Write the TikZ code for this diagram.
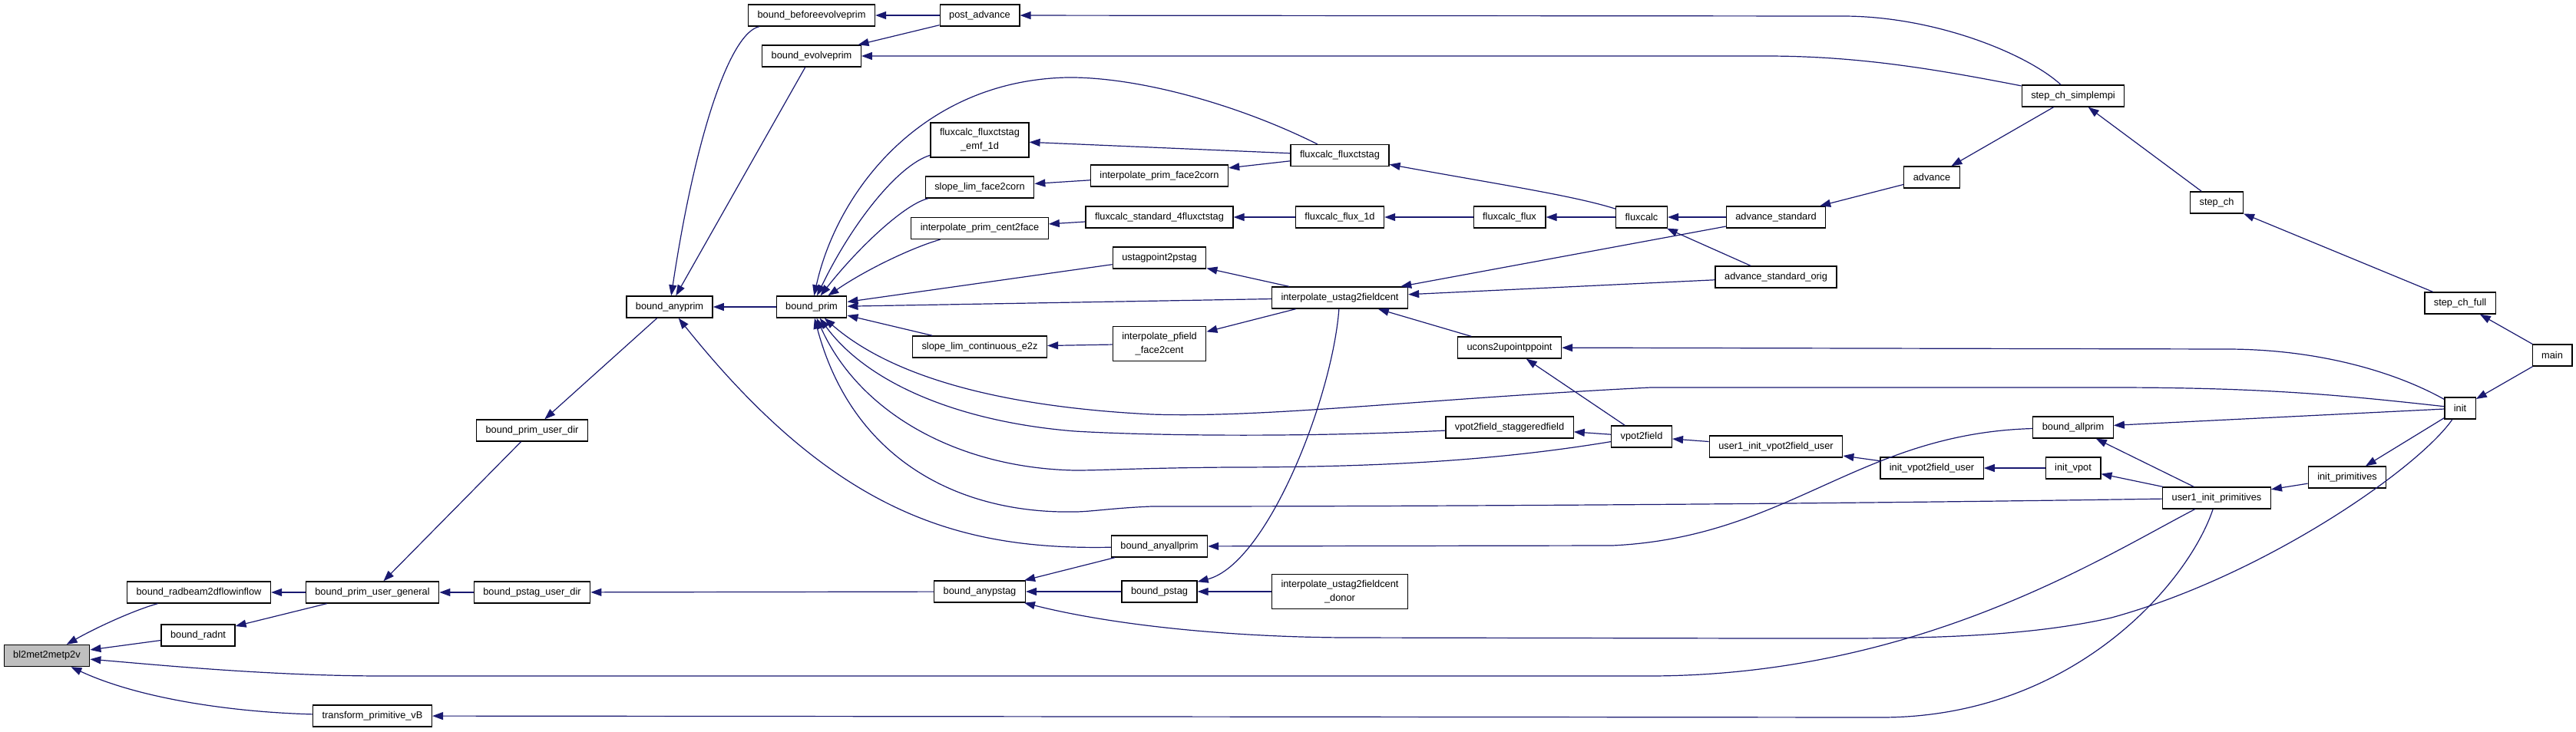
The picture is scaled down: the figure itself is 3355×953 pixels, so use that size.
\documentclass[tikz,border=0pt]{standalone}
\usepackage{fontspec}
\setmainfont{Liberation Sans}
\usetikzlibrary{arrows.meta}
\definecolor{edgeblue}{HTML}{191970}
\definecolor{focusgray}{HTML}{BFBFBF}

\begin{document}
\begin{tikzpicture}[x=0.5pt, y=-0.5pt,
		fn_box/.style={draw=black, line width=0.65pt, fill=white, inner xsep=6pt, inner ysep=0pt, minimum height=14pt, font=\fontsize{6.4}{9}\selectfont},
		fn_box_two/.style={fn_box, align=center, minimum height=22.5pt},
		focus_box/.style={fn_box, fill=focusgray},
		call_edge/.style={draw=edgeblue, line width=0.6pt, -{Triangle[length=7pt,width=5pt]}}
		]
		\useasboundingbox (0,0) rectangle (3355,953);
		
		\node[focus_box] (bl2met) at (61,854.5) {bl2met2metp2v};
		\node[fn_box] (radbeam) at (259,772) {bound\_radbeam2dflowinflow};
		\node[fn_box] (radnt) at (258,828) {bound\_radnt};
		\node[fn_box] (pugen) at (485,772) {bound\_prim\_user\_general};
		\node[fn_box] (trans) at (485,933) {transform\_primitive\_vB};
		\node[fn_box] (pudir) at (693,561) {bound\_prim\_user\_dir};
		\node[fn_box] (psdir) at (693,772) {bound\_pstag\_user\_dir};
		\node[fn_box] (anyprim) at (872,400) {bound\_anyprim};
		\node[fn_box] (bep) at (1057,20) {bound\_beforeevolveprim};
		\node[fn_box] (evp) at (1057,73) {bound\_evolveprim};
		\node[fn_box] (prim) at (1057,400) {bound\_prim};
		\node[fn_box] (postadv) at (1276,20) {post\_advance};
		\node[fn_box_two] (emf) at (1276,182.5) {fluxcalc\_fluxctstag\\\_emf\_1d};
		\node[fn_box] (slf2c) at (1276,244) {slope\_lim\_face2corn};
		\node[fn_box] (ipc2f) at (1276,297.5) {interpolate\_prim\_cent2face};
		\node[fn_box] (sle2z) at (1276,452) {slope\_lim\_continuous\_e2z};
		\node[fn_box] (anypstag) at (1276,771) {bound\_anypstag};
		\node[fn_box] (ipf2c) at (1510,229) {interpolate\_prim\_face2corn};
		\node[fn_box] (fs4) at (1510,283) {fluxcalc\_standard\_4fluxctstag};
		\node[fn_box] (ust2p) at (1510,336) {ustagpoint2pstag};
		\node[fn_box_two] (ipff2c) at (1510,448) {interpolate\_pfield\\\_face2cent};
		\node[fn_box] (anyall) at (1510,712) {bound\_anyallprim};
		\node[fn_box] (pstag) at (1510,771) {bound\_pstag};
		\node[fn_box] (fct) at (1745,202.5) {fluxcalc\_fluxctstag};
		\node[fn_box] (ff1d) at (1745,283) {fluxcalc\_flux\_1d};
		\node[fn_box] (iu2f) at (1745,388) {interpolate\_ustag2fieldcent};
		\node[fn_box_two] (donor) at (1745,771) {interpolate\_ustag2fieldcent\\\_donor};
		\node[fn_box] (fflux) at (1966,283) {fluxcalc\_flux};
		\node[fn_box] (ucons) at (1966,453) {ucons2upointppoint};
		\node[fn_box] (vpsf) at (1966,557) {vpot2field\_staggeredfield};
		\node[fn_box] (fluxcalc) at (2138,283) {fluxcalc};
		\node[fn_box] (vpot2f) at (2138,569) {vpot2field};
		\node[fn_box] (advstd) at (2313,283) {advance\_standard};
		\node[fn_box] (advorig) at (2313,361) {advance\_standard\_orig};
		\node[fn_box] (u1vpot) at (2313,582) {user1\_init\_vpot2field\_user};
		\node[fn_box] (advance) at (2516,231) {advance};
		\node[fn_box] (ivpotu) at (2516,610) {init\_vpot2field\_user};
		\node[fn_box] (simplempi) at (2700,125) {step\_ch\_simplempi};
		\node[fn_box] (allprim) at (2700,557) {bound\_allprim};
		\node[fn_box] (initvpot) at (2700,610) {init\_vpot};
		\node[fn_box] (stepch) at (2887,264) {step\_ch};
		\node[fn_box] (u1prim) at (2887,649) {user1\_init\_primitives};
		\node[fn_box] (initprim) at (3057,622) {init\_primitives};
		\node[fn_box] (stepchfull) at (3204,395) {step\_ch\_full};
		\node[fn_box] (init) at (3204,532) {init};
		\node[fn_box] (main) at (3324,463) {main};
		
		\draw[call_edge] (radbeam) .. controls (175,795) and (125,818) .. (bl2met);
		\draw[call_edge] (radnt) -- (bl2met);
		\draw[call_edge] (u1prim) .. controls (2740,725) and (2500,880) .. (2150,881) -- (500,881) .. controls (350,881) and (200,866) .. (bl2met);
		\draw[call_edge] (trans) .. controls (300,928) and (180,910) .. (bl2met);
		\draw[call_edge] (u1prim) .. controls (2850,760) and (2700,935) .. (2450,935) -- (trans);
		\draw[call_edge] (pugen) -- (radbeam); \draw[call_edge] (pugen) -- (radnt);
		\draw[call_edge] (pudir) -- (pugen); \draw[call_edge] (psdir) -- (pugen);
		\draw[call_edge] (anyprim) -- (pudir);
		\draw[call_edge] (bep) .. controls (950,43) and (905,180) .. (anyprim);
		\draw[call_edge] (evp) -- (anyprim); \draw[call_edge] (prim) -- (anyprim);
		\draw[call_edge] (anyall) .. controls (1250,717) and (1088,670) .. (anyprim);
		\draw[call_edge] (postadv) -- (bep); \draw[call_edge] (postadv) -- (evp);
		\draw[call_edge] (simplempi) .. controls (2640,70) and (2520,21) .. (2400,21) -- (postadv);
		\draw[call_edge] (simplempi) .. controls (2520,90) and (2420,73) .. (2300,73) -- (evp);
		
		\draw[call_edge] (fct) .. controls (1610,135) and (1480,100) .. (1390,101) .. controls (1200,105) and (1090,250) .. (prim);
		\draw[call_edge] (emf) .. controls (1170,215) and (1110,290) .. (prim);
		\draw[call_edge] (slf2c) .. controls (1180,265) and (1120,320) .. (prim);
		\draw[call_edge] (ipc2f) .. controls (1190,322) and (1130,350) .. (prim);
		\draw[call_edge] (ust2p) -- (prim); \draw[call_edge] (iu2f) -- (prim); \draw[call_edge] (sle2z) -- (prim);
		\draw[call_edge] (init) .. controls (3050,515) and (2950,505) .. (2750,505) -- (2150,505) .. controls (1850,520) and (1650,545) .. (1500,540) .. controls (1300,530) and (1160,490) .. (prim);
		\draw[call_edge] (vpsf) .. controls (1700,570) and (1500,568) .. (1400,562) .. controls (1250,550) and (1130,500) .. (prim);
		\draw[call_edge] (vpot2f) .. controls (1950,600) and (1800,609) .. (1600,609) .. controls (1480,610) and (1440,613) .. (1400,613) .. controls (1250,610) and (1120,540) .. (prim);
		\draw[call_edge] (u1prim) .. controls (2500,655) and (2000,660) .. (1500,660) .. controls (1450,662) and (1420,667) .. (1400,667) .. controls (1250,670) and (1110,600) .. (prim);
		
		\draw[call_edge] (fct) -- (emf); \draw[call_edge] (ipf2c) -- (slf2c);
		\draw[call_edge] (fs4) -- (ipc2f); \draw[call_edge] (ipff2c) -- (sle2z);
		\draw[call_edge] (fct) -- (ipf2c);
		\draw[call_edge] (ff1d) -- (fs4); \draw[call_edge] (fflux) -- (ff1d); \draw[call_edge] (fluxcalc) -- (fflux);
		\draw[call_edge] (fluxcalc) .. controls (2050,255) and (1950,240) .. (fct);
		\draw[call_edge] (iu2f) -- (ust2p); \draw[call_edge] (iu2f) -- (ipff2c);
		\draw[call_edge] (advstd) -- (iu2f); \draw[call_edge] (advorig) -- (iu2f); \draw[call_edge] (ucons) -- (iu2f);
		\draw[call_edge] (iu2f) .. controls (1735,520) and (1650,735) .. (pstag);
		\draw[call_edge] (vpot2f) -- (ucons);
		\draw[call_edge] (init) .. controls (3120,485) and (3020,455) .. (2900,455) -- (ucons);
		\draw[call_edge] (vpot2f) -- (vpsf); \draw[call_edge] (u1vpot) -- (vpot2f);
		\draw[call_edge] (ivpotu) -- (u1vpot); \draw[call_edge] (initvpot) -- (ivpotu);
		\draw[call_edge] (u1prim) -- (initvpot); \draw[call_edge] (u1prim) -- (allprim);
		\draw[call_edge] (init) -- (allprim);
		\draw[call_edge] (main) -- (init); \draw[call_edge] (main) -- (stepchfull);
		\draw[call_edge] (stepchfull) -- (stepch); \draw[call_edge] (stepch) -- (simplempi);
		\draw[call_edge] (simplempi) -- (advance); \draw[call_edge] (advance) -- (advstd);
		\draw[call_edge] (advstd) -- (fluxcalc); \draw[call_edge] (advorig) -- (fluxcalc);
		\draw[call_edge] (init) -- (initprim); \draw[call_edge] (initprim) -- (u1prim);
		\draw[call_edge] (init) .. controls (3150,610) and (2950,750) .. (2750,805) .. controls (2620,835) and (2450,832) .. (2300,832) -- (1750,831) .. controls (1600,830) and (1450,815) .. (anypstag);
		\draw[call_edge] (anypstag) -- (psdir); \draw[call_edge] (anyall) -- (anypstag);
		\draw[call_edge] (pstag) -- (anypstag); \draw[call_edge] (donor) -- (pstag);
		\draw[call_edge] (allprim) .. controls (2420,565) and (2330,700) .. (2100,711) -- (anyall);
	\end{tikzpicture}
\end{document}
